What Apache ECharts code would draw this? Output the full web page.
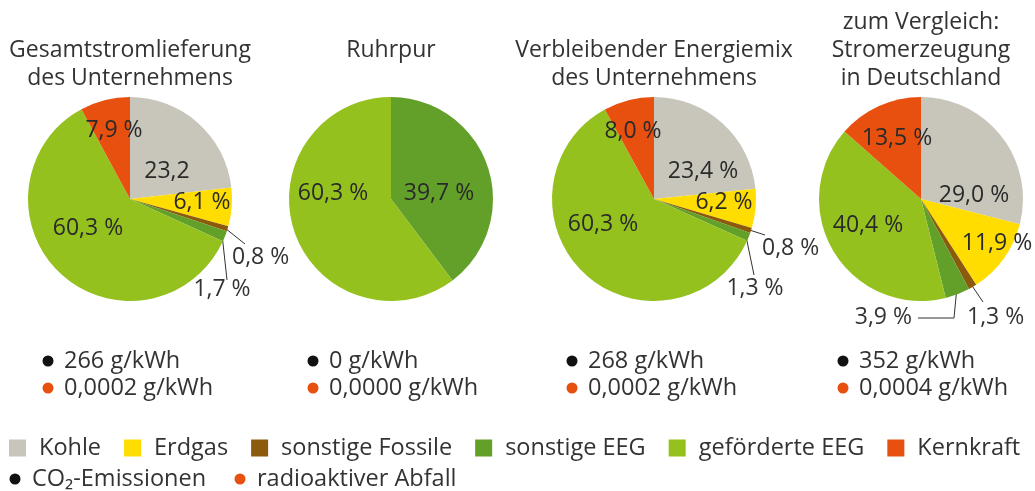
<!DOCTYPE html>
<html><head><meta charset="utf-8">
<script src="https://cdn.jsdelivr.net/npm/echarts@6/dist/echarts.min.js"></script>
<style>html,body{margin:0;padding:0;background:#fff}#c{width:1035px;height:491px}</style>
</head><body><div id="c"></div>
<script>
// ---- data ----
const categories = ['Kohle', 'Erdgas', 'sonstige Fossile', 'sonstige EEG', 'geförderte EEG', 'Kernkraft'];
const pieTitles = ['Gesamtstromlieferung\ndes Unternehmens', 'Ruhrpur', 'Verbleibender Energiemix\ndes Unternehmens', 'zum Vergleich:\nStromerzeugung\nin Deutschland'];
const mixGesamt = [23.2, 6.1, 0.8, 1.7, 60.3, 7.9];
const mixRuhrpur = [0, 0, 0, 39.7, 60.3, 0];
const mixVerbleibend = [23.4, 6.2, 0.8, 1.3, 60.3, 8.0];
const mixDeutschland = [29.0, 11.9, 1.3, 3.9, 40.4, 13.5];
const co2Values = ['266 g/kWh', '0 g/kWh', '268 g/kWh', '352 g/kWh'];
const wasteValues = ['0,0002 g/kWh', '0,0000 g/kWh', '0,0002 g/kWh', '0,0004 g/kWh'];
const extraLegend = ['CO₂-Emissionen', 'radioaktiver Abfall'];

// ---- styles / layout ----
const FONT = '"Open Sans", "Noto Sans", sans-serif';
const colors = ['#c8c5bb', '#ffdd00', '#8c5a0c', '#62a02a', '#95c11f', '#e8500f'];
const allMixes = [mixGesamt, mixRuhrpur, mixVerbleibend, mixDeutschland];
const centersX = [130, 391, 654, 921];
const CY = 199, R = 102;
const titleTops = [36, 36, 36, 8];
const dotX = [48, 313, 572, 843];
const noPercent = {0: [0]};
const LABEL_FS = 23, TEXT_FS = 23.5;
// label placement relative to pie centre (style only)
const place = [
  {0: {dx: 37, dy: -28}, 1: {dx: 72, dy: 3}, 2: {out: 1, align: 'left', dx: 102, dy: 58, line: [[115, 45]]},
   3: {out: 1, align: 'center', dx: 92, dy: 90, line: [[97, 81]]}, 4: {dx: -42, dy: 29}, 5: {dx: -16, dy: -69}},
  {3: {dx: 48, dy: -6}, 4: {dx: -58, dy: -6}},
  {0: {dx: 49, dy: -28}, 1: {dx: 70, dy: 3}, 2: {out: 1, align: 'left', dx: 108, dy: 49, line: [[111, 36]]},
   3: {out: 1, align: 'center', dx: 101, dy: 89, line: [[100, 76]]}, 4: {dx: -51, dy: 25}, 5: {dx: -21, dy: -68}},
  {0: {dx: 53, dy: -4}, 1: {dx: 76, dy: 44}, 2: {out: 1, align: 'left', dx: 46, dy: 118, line: [[62, 103]]},
   3: {out: 1, align: 'right', dx: -9, dy: 118, line: [[33, 119], [-3, 119]]}, 4: {dx: -53, dy: 26}, 5: {dx: -24, dy: -61}}
];

function fmt(v) { return v.toFixed(1).replace('.', ','); }

const series = allMixes.map(function (mix, si) {
  const items = [];
  const total = mix.reduce(function (a, b) { return a + b; }, 0);
  let cum = 0;
  mix.forEach(function (v, ci) {
    if (v <= 0) return;
    const mid = (cum + v / 2) / total * Math.PI * 2;
    cum += v;
    const p = place[si][ci] || {dx: 0, dy: 0};
    const omit = (noPercent[si] || []).indexOf(ci) >= 0;
    items.push({
      name: categories[ci], value: v, _ci: ci, _mid: mid,
      itemStyle: {color: colors[ci]},
      label: {position: p.out ? 'outside' : 'inside', formatter: fmt(v) + (omit ? '' : ' %'), color: p.out ? '#333' : '#2a2a2a'},
      labelLine: {show: !!p.out}
    });
  });
  const cx = centersX[si];
  return {
    type: 'pie', center: [cx, CY], radius: R, startAngle: 90, clockwise: true,
    avoidLabelOverlap: false, silent: true, animation: false,
    label: {show: true, fontSize: LABEL_FS, fontFamily: FONT},
    labelLine: {lineStyle: {color: '#333', width: 1}, smooth: false, length: 5, length2: 5},
    data: items,
    labelLayout: function (params) {
      const it = items[params.dataIndex];
      const p = place[si][it._ci] || {dx: 0, dy: 0};
      const res = {x: cx + p.dx, y: CY + p.dy, align: p.align || 'center', verticalAlign: 'middle'};
      if (p.out) {
        const r0 = R * 0.97;
        const pts = [[cx + r0 * Math.sin(it._mid), CY - r0 * Math.cos(it._mid)]];
        p.line.forEach(function (q) { pts.push([cx + q[0], CY + q[1]]); });
        res.labelLinePoints = pts;
      }
      return res;
    }
  };
});

const titles = pieTitles.map(function (t, i) {
  return {text: t, left: centersX[i], top: titleTops[i], textAlign: 'center', padding: 0,
    textStyle: {fontSize: 23, fontWeight: 'normal', color: '#333', fontFamily: FONT, lineHeight: 28}};
});

const graphics = [];
co2Values.forEach(function (t, i) {
  graphics.push({type: 'circle', shape: {cx: dotX[i], cy: 361, r: 5.5}, style: {fill: '#111'}, silent: true});
  graphics.push({type: 'text', x: dotX[i] + 16, y: 361, style: {text: t, fill: '#333', font: TEXT_FS + 'px ' + FONT, textVerticalAlign: 'middle'}, silent: true});
  graphics.push({type: 'circle', shape: {cx: dotX[i], cy: 388, r: 5.5}, style: {fill: colors[5]}, silent: true});
  graphics.push({type: 'text', x: dotX[i] + 16, y: 388, style: {text: wasteValues[i], fill: '#333', font: TEXT_FS + 'px ' + FONT, textVerticalAlign: 'middle'}, silent: true});
});
const extraX = [15, 240];
const extraColors = ['#111', colors[5]];
extraLegend.forEach(function (t, i) {
  graphics.push({type: 'circle', shape: {cx: extraX[i], cy: 479, r: 5.5}, style: {fill: extraColors[i]}, silent: true});
  graphics.push({type: 'text', x: extraX[i] + 17, y: 479, style: {text: t, fill: '#333', font: TEXT_FS + 'px ' + FONT, textVerticalAlign: 'middle'}, silent: true});
});

const chart = echarts.init(document.getElementById('c'), null, {renderer: 'canvas'});
chart.setOption({
  backgroundColor: '#fff',
  animation: false,
  title: titles,
  legend: {data: categories, left: 9, top: 436, padding: 0, icon: 'rect', itemWidth: 17, itemHeight: 17, itemGap: 23,
    selectedMode: false, textStyle: {fontSize: TEXT_FS, color: '#333', fontFamily: FONT, padding: [0, 0, 0, 8]}},
  series: series,
  graphic: graphics
});
</script></body></html>
